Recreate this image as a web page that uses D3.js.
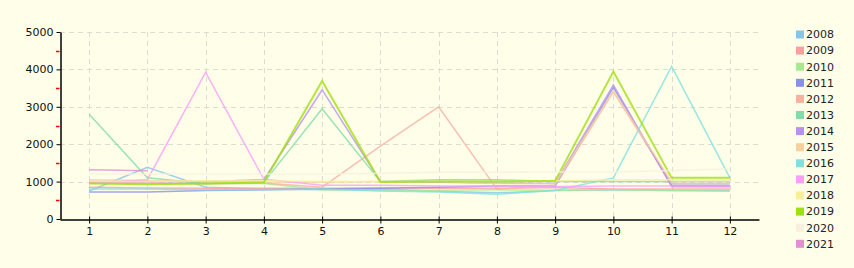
<!DOCTYPE html>
<html>
<head>
<meta charset="utf-8">
<script src="https://cdn.jsdelivr.net/npm/d3@7"></script>
<style>
  body { margin: 0; background: #fffee8; }
  svg { display: block; font-family: "DejaVu Sans", Verdana, sans-serif; }
</style>
</head>
<body>
<script>
// ---- data ----
const months = [1, 2, 3, 4, 5, 6, 7, 8, 9, 10, 11, 12];
const years = ["2008", "2009", "2010", "2011", "2012", "2013", "2014",
               "2015", "2016", "2017", "2018", "2019", "2020", "2021"];
const yearColors = ["#88c4e8", "#f8a0a0", "#a8e890", "#8890e8", "#f8b0a0", "#80dca8", "#b890f0",
                    "#f8d0a0", "#80e0e0", "#f8a0f8", "#f8f098", "#a0e010", "#f6f0dc", "#e090d0"];

const v2008 = [750, 1380, 850, 800, 780, 800, 740, 700, 760, 780, 760, 760];
const v2009 = [850, 830, 820, 820, 820, 830, 820, 820, 840, 800, 800, 800];
const v2010 = [960, 950, 940, 950, 780, 760, 770, 780, 770, 780, 760, 740];
const v2011 = [720, 720, 760, 780, 800, 820, 850, 880, 880, 3520, 900, 900];
const v2012 = [980, 960, 950, 960, 850, 1950, 3000, 800, 900, 3400, 950, 950];
const v2013 = [2800, 1100, 950, 980, 2950, 1000, 1050, 1050, 1000, 1000, 1000, 1000];
const v2014 = [1000, 1000, 1000, 1050, 3450, 1000, 980, 960, 950, 3580, 860, 860];
const v2015 = [1050, 1030, 1000, 990, 980, 1000, 1000, 950, 950, 3420, 1000, 1000];
const v2016 = [800, 800, 780, 780, 800, 750, 720, 660, 760, 1100, 4080, 1100];
const v2017 = [950, 1050, 3920, 1060, 900, 900, 880, 880, 870, 880, 880, 880];
const v2018 = [1000, 1000, 1020, 1020, 1000, 1000, 1000, 1000, 1020, 1050, 1050, 1050];
const v2019 = [950, 930, 950, 980, 3690, 990, 1000, 1000, 1020, 3940, 1100, 1100];
const v2020 = [1200, 1200, 1200, 1200, 1200, 1220, 1250, 1250, 1260, 1260, 1300, 1340];
const v2021 = [1320, 1290, null, null, null, null, null, null, null, null, null, null];

const yearValues = [v2008, v2009, v2010, v2011, v2012, v2013, v2014,
                    v2015, v2016, v2017, v2018, v2019, v2020, v2021];

const yTicks = [0, 1000, 2000, 3000, 4000, 5000];
const yMinor = [500, 1500, 2500, 3500, 4500];

// ---- layout ----
const width = 854, height = 268;
const plotLeft = 60, plotRight = 759, plotTop = 32, plotBottom = 219;

const svg = d3.select("body").append("svg")
  .attr("width", width)
  .attr("height", height);

svg.append("rect").attr("width", width).attr("height", height).attr("fill", "#fffee8");

const x = d3.scaleLinear().domain([0.5, 12.5]).range([plotLeft, plotRight]);
const y = d3.scaleLinear().domain([0, 5000]).range([plotBottom, plotTop]);

// grid
const grid = svg.append("g")
  .attr("stroke", "#dcdcd0")
  .attr("stroke-dasharray", "5,4")
  .attr("stroke-width", 1);

grid.selectAll("line.h")
  .data(yTicks.slice(1))
  .join("line")
    .attr("class", "h")
    .attr("x1", plotLeft).attr("x2", plotRight)
    .attr("y1", d => Math.round(y(d)) + 0.5)
    .attr("y2", d => Math.round(y(d)) + 0.5);

grid.selectAll("line.v")
  .data(months)
  .join("line")
    .attr("class", "v")
    .attr("x1", d => Math.round(x(d)) + 0.5)
    .attr("x2", d => Math.round(x(d)) + 0.5)
    .attr("y1", plotTop).attr("y2", plotBottom);

// lines
const line = d3.line()
  .defined(d => d != null)
  .x((d, i) => x(months[i]))
  .y(d => y(d));

svg.append("g")
  .attr("fill", "none")
  .selectAll("path")
  .data(yearValues)
  .join("path")
    .attr("stroke", (d, i) => yearColors[i])
    .attr("stroke-width", (d, i) => years[i] === "2019" ? 2 : 1.5)
    .attr("stroke-opacity", 0.8)
    .attr("d", d => line(d));

// y axis
const yAxis = svg.append("g")
  .attr("transform", `translate(${plotLeft + 0.5},0)`)
  .call(d3.axisLeft(y).tickValues(yTicks).tickFormat(d3.format("d")).tickSize(4).tickPadding(3).tickSizeOuter(0));
yAxis.select(".domain").attr("stroke", "#000").attr("stroke-width", 1.5);
yAxis.selectAll(".tick text").attr("font-size", 11).attr("fill", "#111")
  .attr("font-family", "DejaVu Sans, Verdana, sans-serif");

svg.append("g")
  .selectAll("line")
  .data(yMinor)
  .join("line")
    .attr("x1", plotLeft - 4).attr("x2", plotLeft - 0.5)
    .attr("y1", d => Math.round(y(d)) + 0.5).attr("y2", d => Math.round(y(d)) + 0.5)
    .attr("stroke", "#ff0000")
    .attr("stroke-width", 1.5);

// x axis
const xAxis = svg.append("g")
  .attr("transform", `translate(0,${plotBottom + 0.5})`)
  .call(d3.axisBottom(x).tickValues(months).tickFormat(d3.format("d")).tickSize(4).tickPadding(4).tickSizeOuter(0));
xAxis.select(".domain").attr("stroke", "#000").attr("stroke-width", 1.5);
xAxis.selectAll(".tick line").attr("y1", -3);
xAxis.selectAll(".tick text").attr("font-size", 11).attr("fill", "#111")
  .attr("font-family", "DejaVu Sans, Verdana, sans-serif");

// legend
const legend = svg.append("g")
  .selectAll("g")
  .data(years)
  .join("g")
    .attr("transform", (d, i) => `translate(796,${34.5 + i * 16.1})`);

legend.append("rect")
  .attr("x", 0).attr("y", -4)
  .attr("width", 8).attr("height", 8)
  .attr("fill", (d, i) => yearColors[i]);

legend.append("text")
  .attr("x", 10).attr("dy", "0.35em")
  .attr("font-size", 11)
  .attr("fill", "#222")
  .text(d => d);
</script>
</body>
</html>
